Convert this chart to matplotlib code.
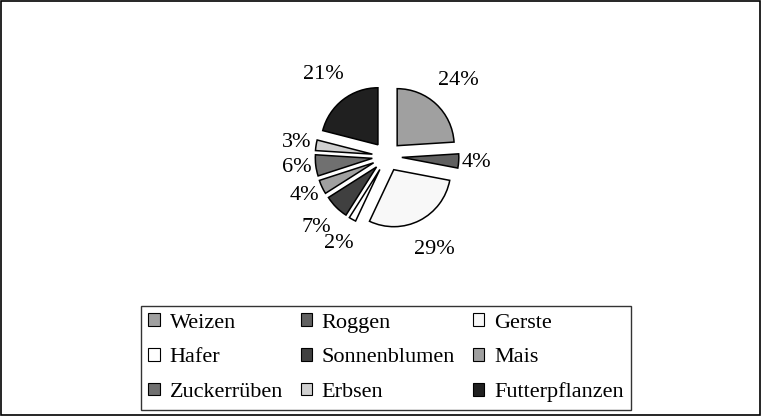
import matplotlib.pyplot as plt
from matplotlib.patches import Rectangle, Patch

plt.rcParams['font.family'] = ['Liberation Serif', 'DejaVu Serif']

# Daten
kulturen = ['Weizen', 'Roggen', 'Gerste', 'Hafer', 'Sonnenblumen', 'Mais',
            'Zuckerrüben', 'Erbsen', 'Futterpflanzen']
anteile = [24, 4, 29, 2, 7, 4, 6, 3, 21]
farben = ['#a0a0a0', '#606060', '#f8f8f8', '#ffffff', '#404040', '#a0a0a0',
          '#707070', '#d0d0d0', '#202020']
beschriftung = [str(a) + '%' for a in anteile]

# Abstand der Beschriftungen vom Mittelpunkt (wie Excel sie setzt)
label_abstand = [1.82, 1.58, 1.83, 1.74, 1.75, 1.61, 1.59, 1.60, 1.83]

fig = plt.figure(figsize=(7.62, 4.16), dpi=100)

# Rahmen ums ganze Bild
fig.patches.append(Rectangle((0.001, 0.002), 0.997, 0.995, transform=fig.transFigure,
                             fill=False, edgecolor='black', linewidth=1.2))

ax = fig.add_axes([0.3583, 0.3498, 0.2992, 0.5481])
explode = 0.26
ld = 1.45
wedges, texts = ax.pie(anteile, labels=beschriftung, colors=farben, startangle=90,
                       counterclock=False, explode=[explode] * len(anteile),
                       labeldistance=ld,
                       wedgeprops=dict(edgecolor='black', linewidth=1.1),
                       textprops=dict(fontsize=16))
for t, f in zip(texts, label_abstand):
    x, y = t.get_position()
    k = f / (explode + ld)
    t.set_position((x * k, y * k))
    t.set_ha('center')
    t.set_va('center')
ax.set_xlim(-2, 2)
ax.set_ylim(-2, 2)
ax.set_aspect('equal')

# Legende zeilenweise wie im Original
reihenfolge = [0, 3, 6, 1, 4, 7, 2, 5, 8]
handles = [Patch(facecolor=farben[i], edgecolor='black', linewidth=0.8) for i in reihenfolge]
namen = [kulturen[i] for i in reihenfolge]
leg = fig.legend(handles, namen, ncol=3, loc='center', bbox_to_anchor=(0.5066, 0.1395),
                 fontsize=16, frameon=True, fancybox=False, edgecolor='black',
                 handlelength=0.5, handleheight=0.5, handletextpad=0.45,
                 columnspacing=0.8, labelspacing=0.69, borderpad=0.35)
leg.get_frame().set_linewidth(1.0)

fig.savefig('out.png', dpi=100)
